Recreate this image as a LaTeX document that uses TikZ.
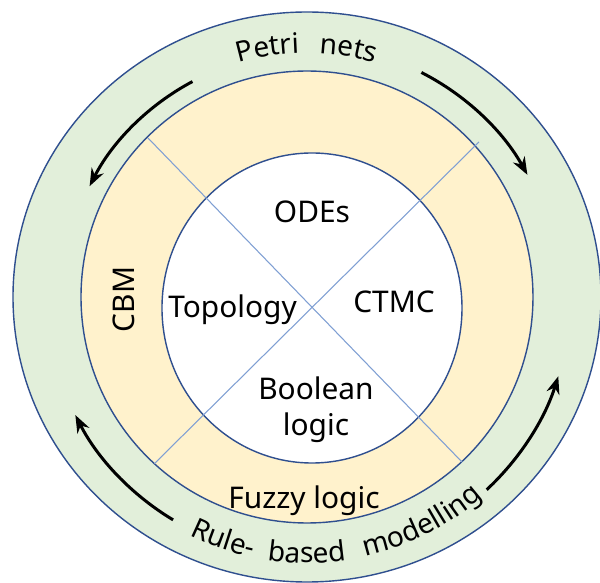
\documentclass[tikz,border=0pt]{standalone}
\usepackage{fontspec}
\setmainfont{Noto Sans}
\usetikzlibrary{arrows.meta,decorations.text}
\definecolor{ringgreen}{HTML}{E2EFDA}
\definecolor{ringyellow}{HTML}{FFF2CC}
\definecolor{ringline}{HTML}{2F4F8F}
\definecolor{crossline}{HTML}{7F9FD3}

\begin{document}
\begin{tikzpicture}[
    ring/.style={draw=ringline,line width=0.8pt},
    cross/.style={draw=crossline,line width=0.6pt},
    lbl/.style={font=\fontsize{17}{21}\selectfont,align=center,anchor=base,inner sep=0pt},
    flow/.style={-{Stealth[length=10pt,width=7.5pt]},line width=1.7pt,black},
    arctext/.style={decorate,decoration={text along path,text align=center,
        text={|\fontsize{16}{19}\selectfont|#1}}}
  ]
  \useasboundingbox (-6.14,-5.72) rectangle (5.86,5.94);

  \draw [ring,fill=ringgreen] (0,0) ellipse [x radius=5.88,y radius=5.7];
  \draw [ring,fill=ringyellow] (0,0) circle [radius=4.52];
  \draw [ring,fill=white] (0.1,-0.22) ellipse [x radius=3.0,y radius=3.1];

  \coordinate (ul) at (-3.18,3.18);
  \coordinate (ur) at (3.44,3.1);
  \coordinate (ll) at (-3.05,-3.33);
  \coordinate (lr) at (3.1,-3.3);
  \draw [cross] (ul) -- (lr);
  \draw [cross] (ur) -- (ll);

  \node [lbl] (odes) at (0.1,1.48) {ODEs};
  \node [lbl] (topology) at (-1.49,-0.41) {Topology};
  \node [lbl] (ctmc) at (1.74,-0.32) {CTMC};
  \node [lbl] (boolean) at (0.18,-2.78) {Boolean\\logic};
  \node [lbl] (fuzzy) at (-0.06,-4.24) {Fuzzy logic};
  \node [lbl,rotate=90] (cbm) at (-3.44,-0.05) {CBM};

  \path [arctext={Petri}] (120:4.88) arc [start angle=120,end angle=78,radius=4.88];
  \path [arctext={nets}] (101:4.88) arc [start angle=101,end angle=60,radius=4.88];
  \path [arctext={Rule-}] (226:5.32) arc [start angle=226,end angle=276,radius=5.32];
  \path [arctext={based}] (245:5.32) arc [start angle=245,end angle=295,radius=5.32];
  \path [arctext={modelling}] (272:5.32) arc [start angle=272,end angle=322,radius=5.32];

  \draw [flow] (118:4.88) arc [start angle=118,end angle=153,radius=4.88];
  \draw [flow] (63:5.04) arc [start angle=63,end angle=29,radius=5.04];
  \draw [flow] (-47:5.27) arc [start angle=-47,end angle=-17.5,radius=5.27];
  \draw [flow] (239:5.2) arc [start angle=239,end angle=207,radius=5.2];
\end{tikzpicture}
\end{document}
